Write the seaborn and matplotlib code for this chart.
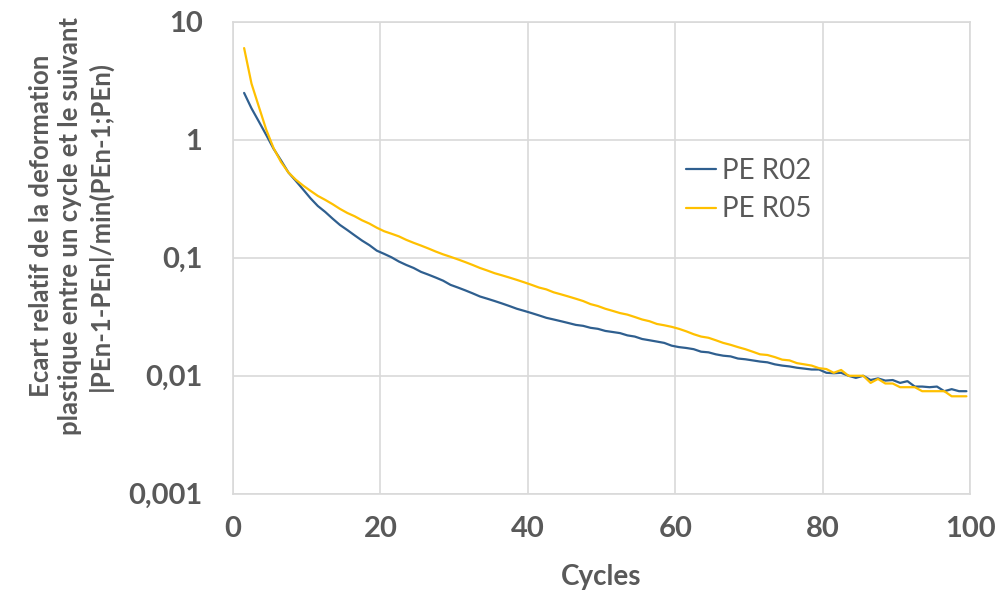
import numpy as np
import pandas as pd
import seaborn as sns
import matplotlib.pyplot as plt
from matplotlib.ticker import FixedLocator, FuncFormatter, NullLocator

# Cycles (milieu de chaque intervalle entre deux cycles)
cycles = np.arange(1.5, 100, 1.0)

pe_r02 = [
    2.5, 1.85, 1.43, 1.10, 0.84, 0.67, 0.53, 0.45, 0.38, 0.32,
    0.275, 0.245, 0.215, 0.19, 0.172, 0.155, 0.14, 0.128, 0.115, 0.108,
    0.101, 0.093, 0.087, 0.082, 0.076, 0.072, 0.068, 0.064, 0.059, 0.056,
    0.053, 0.050, 0.047, 0.045, 0.043, 0.041, 0.039, 0.037, 0.0355, 0.034,
    0.0325, 0.031, 0.030, 0.029, 0.028, 0.027, 0.0265, 0.0255, 0.025, 0.024,
    0.0235, 0.023, 0.022, 0.0215, 0.0205, 0.020, 0.0195, 0.019, 0.018, 0.0175,
    0.0172, 0.0168, 0.016, 0.0158, 0.0152, 0.0148, 0.0146, 0.014, 0.0138, 0.0135,
    0.0132, 0.013, 0.0125, 0.0122, 0.012, 0.0117, 0.0115, 0.0113, 0.0113, 0.0106,
    0.0105, 0.0106, 0.0100, 0.0096, 0.0100, 0.0092, 0.0095, 0.0091, 0.0092, 0.0087,
    0.0090, 0.0081, 0.0081, 0.0080, 0.0081, 0.0074, 0.0077, 0.0074, 0.0074,
]

pe_r05 = [
    6.0, 3.0, 1.91, 1.22, 0.85, 0.65, 0.53, 0.46, 0.41, 0.37,
    0.335, 0.31, 0.285, 0.26, 0.24, 0.225, 0.208, 0.195, 0.18, 0.168,
    0.16, 0.152, 0.142, 0.134, 0.127, 0.12, 0.113, 0.107, 0.102, 0.097,
    0.092, 0.087, 0.082, 0.078, 0.074, 0.071, 0.068, 0.065, 0.062, 0.059,
    0.056, 0.054, 0.051, 0.049, 0.047, 0.045, 0.043, 0.0405, 0.039, 0.037,
    0.0355, 0.034, 0.033, 0.0315, 0.030, 0.029, 0.0275, 0.0268, 0.026, 0.025,
    0.0238, 0.0225, 0.0215, 0.021, 0.020, 0.019, 0.0183, 0.0175, 0.0168, 0.016,
    0.0152, 0.0150, 0.0144, 0.0137, 0.0135, 0.0128, 0.0125, 0.0122, 0.0116, 0.0114,
    0.0106, 0.0112, 0.0100, 0.0100, 0.0100, 0.0087, 0.0094, 0.0086, 0.0086, 0.0080,
    0.0080, 0.0080, 0.0074, 0.0074, 0.0074, 0.0074, 0.0067, 0.0067, 0.0067,
]

series_names = ["PE R02", "PE R05"]
colors = {"PE R02": "#2F5F8F", "PE R05": "#FFC000"}

df = pd.concat([
    pd.DataFrame({"Cycles": cycles, "Ecart": pe_r02, "Serie": series_names[0]}),
    pd.DataFrame({"Cycles": cycles, "Ecart": pe_r05, "Serie": series_names[1]}),
])

sns.set_style("white")
plt.rcParams['font.family'] = ['Lato', 'DejaVu Sans']

fig = plt.figure(figsize=(9.96, 5.92), dpi=100)
ax = fig.add_axes([0.234, 0.166, 0.74, 0.797])

sns.lineplot(data=df, x="Cycles", y="Ecart", hue="Serie", palette=colors,
             linewidth=1.6, ax=ax)

ax.set_yscale("log")
ax.set_ylim(0.001, 10)
ax.set_xlim(0, 100)
ax.set_xticks([0, 20, 40, 60, 80, 100])
ax.yaxis.set_major_locator(FixedLocator([0.001, 0.01, 0.1, 1, 10]))
ax.yaxis.set_minor_locator(NullLocator())
ax.yaxis.set_major_formatter(FuncFormatter(lambda v, _: f"{v:g}".replace(".", ",")))

grid_c = "#D9D9D9"
ax.grid(True, color=grid_c, linewidth=1.2)
for s in ax.spines.values():
    s.set_color(grid_c)
    s.set_linewidth(1.2)
ax.tick_params(axis="both", length=0, labelsize=21, labelcolor="#595959")
ax.tick_params(axis="y", pad=22)
ax.tick_params(axis="x", pad=16)
for lab in ax.get_xticklabels() + ax.get_yticklabels():
    lab.set_fontweight("bold")

ax.set_xlabel("Cycles", fontsize=20, fontweight="bold", color="#595959", labelpad=16)
ax.set_ylabel("Ecart relatif de la deformation\nplastique entre un cycle et le suivant\n|PEn-1-PEn|/min(PEn-1;PEn)",
              fontsize=18.5, fontweight="bold", color="#595959", linespacing=1.25)
ax.yaxis.set_label_coords(-0.163, 0.568)

leg = ax.legend(loc="upper left", bbox_to_anchor=(0.58, 0.765), frameon=False,
                fontsize=20, handlelength=1.1, handletextpad=0.2, labelspacing=0.45)
for t in leg.get_texts():
    t.set_color("#595959")
for h in leg.get_lines():
    h.set_linewidth(1.6)

fig.savefig("out.png", dpi=100)
